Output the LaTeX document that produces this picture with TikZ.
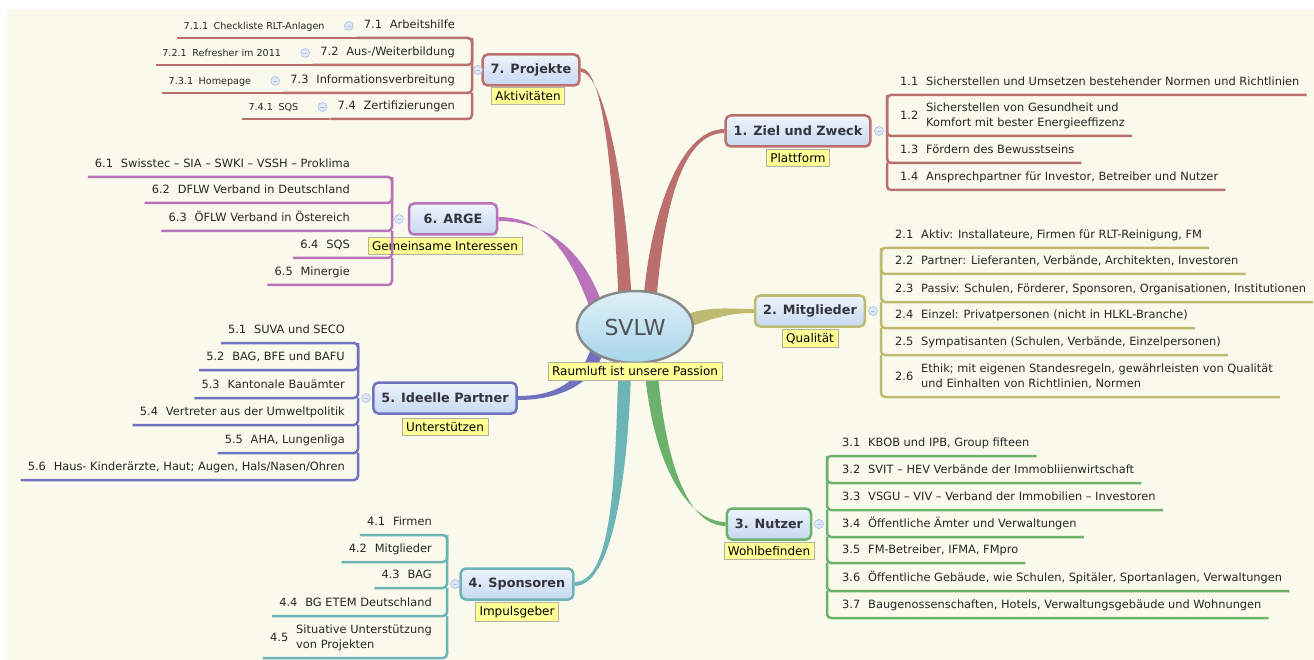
\documentclass[tikz,border=0pt]{standalone}
\usepackage{fontspec}
\setmainfont{DejaVu Sans}
\usepackage{tikz}
\usetikzlibrary{positioning,calc,shapes.geometric}
\pgfdeclarelayer{backdrop}
\pgfdeclarelayer{limbs}
\pgfsetlayers{backdrop,limbs,main}
\definecolor{paper}{RGB}{250,250,236}
\definecolor{brRed}{RGB}{187,112,110}
\definecolor{brOlive}{RGB}{190,186,112}
\definecolor{brGreen}{RGB}{108,178,108}
\definecolor{brTeal}{RGB}{108,180,182}
\definecolor{brBlue}{RGB}{112,114,192}
\definecolor{brPurple}{RGB}{186,114,186}
\definecolor{memoyellow}{RGB}{255,255,150}
\definecolor{memoline}{RGB}{178,178,158}
\definecolor{boxtop}{RGB}{238,244,252}
\definecolor{boxbot}{RGB}{198,216,240}
\definecolor{ovaltop}{RGB}{224,240,248}
\definecolor{ovalbot}{RGB}{166,214,234}
\definecolor{ovalline}{RGB}{138,138,138}
\definecolor{ink}{RGB}{52,52,60}
\definecolor{svlwink}{RGB}{82,82,86}
\definecolor{foldfill}{RGB}{222,232,248}
\definecolor{foldline}{RGB}{172,192,226}
\newcommand{\leaffont}{\fontsize{11.4}{15}\selectfont}
\newcommand{\twigfont}{\fontsize{9.6}{12}\selectfont}
\newcommand{\topicfont}{\bfseries\fontsize{12.8}{15}\selectfont}
\newcommand{\memofont}{\fontsize{12}{14}\selectfont}
\newcommand{\nr}[1]{\makebox[26pt][l]{#1}}
\newcommand{\twignr}[1]{\makebox[30pt][l]{#1}}
\newcommand{\twoline}[3]{\raisebox{7.5pt}{\makebox[26pt][l]{#1}}\begin{tabular}[b]{@{}l@{}}#2\\#3\end{tabular}}
\newcommand{\limb}[7]{\fill[#1] ($#2+#3$) .. controls ($#4+#3$) and ($#5+#7$) .. ($#6+#7$) -- ($#6-#7$) .. controls ($#5-#7$) and ($#4-#3$) .. ($#2-#3$) -- cycle;}
\tikzstyle{topic} = [rounded corners=5pt, line width=2.5pt, top color=boxtop, bottom color=boxbot, font=\topicfont, text=ink, minimum height=31pt, inner xsep=8pt]
\tikzstyle{memo} = [fill=memoyellow, draw=memoline, line width=0.6pt, font=\memofont, text=black, inner xsep=4pt, inner ysep=4pt]
\tikzstyle{leaf} = [font=\leaffont, text=black!85, inner xsep=7pt, inner ysep=6pt, text depth=3pt]
\tikzstyle{twig} = [font=\twigfont, text=black!85, inner xsep=6pt, inner ysep=6pt, text depth=2.5pt]
\tikzstyle{fold} = [circle, minimum size=9pt, inner sep=0pt, fill=foldfill, draw=foldline, line width=0.6pt, path picture={\draw[foldline, line width=0.7pt] ([xshift=-2.2pt]path picture bounding box.center) -- ([xshift=2.2pt]path picture bounding box.center);}]
\tikzstyle{rib} = [line width=2.5pt, rounded corners=4pt]

\begin{document}
\begin{tikzpicture}[x=1pt, y=-1pt]
	  \useasboundingbox (0,0) rectangle (1314,660);
	  \begin{pgfonlayer}{backdrop}
	  \fill[white] (0,0) rectangle (1314,660);
	  \fill[paper] (7,10) rectangle (1314,660);
	  \end{pgfonlayer}

	  \node (svlw) at (635,327) [ellipse, minimum width=116pt, minimum height=72pt, inner sep=0pt, top color=ovaltop, bottom color=ovalbot, draw=ovalline, line width=2.5pt, text=svlwink, font=\fontsize{22}{24}\selectfont] {SVLW};
	  \node (b1) at (798,131) [topic, draw=brRed] {1. Ziel und Zweck};
	  \node (b2) at (810,311) [topic, draw=brOlive] {2. Mitglieder};
	  \node (b3) at (769,524) [topic, draw=brGreen] {3. Nutzer};
	  \node (b4) at (517,584) [topic, draw=brTeal] {4. Sponsoren};
	  \node (b5) at (445,398) [topic, draw=brBlue] {5. Ideelle Partner};
	  \node (b6) at (453,219) [topic, draw=brPurple, minimum width=88pt] {6. ARGE};
	  \node (b7) at (531,70) [topic, draw=brRed] {7. Projekte};

	  \node (m0) [memo, below=-2pt of svlw] {Raumluft ist unsere Passion};
	  \node (m1) [memo, below=1pt of b1] {Plattform};
	  \node (m2) [memo, below=1pt of b2] {Qualität};
	  \node (m3) [memo, below=1pt of b3] {Wohlbefinden};
	  \node (m4) [memo, below=1pt of b4] {Impulsgeber};
	  \node (m5) [memo, below=3pt of b5] {Unterstützen};
	  \node (m6) [memo, below=1pt of b6, xshift=-8pt] {Gemeinsame Interessen};
	  \node (m7) [memo, below=0pt of b7, xshift=-3pt] {Aktivitäten};

	  \coordinate (k1) at (887,131);
	  \coordinate (k2) at (881,311);
	  \coordinate (k3) at (827,524);
	  \coordinate (k4) at (447,584);
	  \coordinate (k5) at (358,398);
	  \coordinate (k6) at (392,219);
	  \coordinate (k7) at (472,70);

	  \node (i11) at (893,95) [leaf, anchor=south west] {\nr{1.1}Sicherstellen und Umsetzen bestehender Normen und Richtlinien};
	  \node (i12) at (893,136) [leaf, anchor=south west] {\twoline{1.2}{Sicherstellen von Gesundheit und}{Komfort mit bester Energieeffizenz}};
	  \node (i13) at (893,163) [leaf, anchor=south west] {\nr{1.3}Fördern des Bewusstseins};
	  \node (i14) at (893,190) [leaf, anchor=south west] {\nr{1.4}Ansprechpartner für Investor, Betreiber und Nutzer};

	  \node (i21) at (888,248) [leaf, anchor=south west] {\nr{2.1}Aktiv: Installateure, Firmen für RLT-Reinigung, FM};
	  \node (i22) at (888,274) [leaf, anchor=south west] {\nr{2.2}Partner: Lieferanten, Verbände, Architekten, Investoren};
	  \node (i23) at (888,302) [leaf, anchor=south west] {\nr{2.3}Passiv: Schulen, Förderer, Sponsoren, Organisationen, Institutionen};
	  \node (i24) at (888,328) [leaf, anchor=south west] {\nr{2.4}Einzel: Privatpersonen (nicht in HLKL-Branche)};
	  \node (i25) at (888,355) [leaf, anchor=south west] {\nr{2.5}Sympatisanten (Schulen, Verbände, Einzelpersonen)};
	  \node (i26) at (888,397) [leaf, anchor=south west] {\twoline{2.6}{Ethik; mit eigenen Standesregeln, gewährleisten von Qualität}{und Einhalten von Richtlinien, Normen}};

	  \node (i31) at (835,456) [leaf, anchor=south west] {\nr{3.1}KBOB und IPB, Group fifteen};
	  \node (i32) at (835,483) [leaf, anchor=south west] {\nr{3.2}SVIT – HEV Verbände der Immobliienwirtschaft};
	  \node (i33) at (835,510) [leaf, anchor=south west] {\nr{3.3}VSGU – VIV – Verband der Immobilien – Investoren};
	  \node (i34) at (835,537) [leaf, anchor=south west] {\nr{3.4}Öffentliche Ämter und Verwaltungen};
	  \node (i35) at (835,563) [leaf, anchor=south west] {\nr{3.5}FM-Betreiber, IFMA, FMpro};
	  \node (i36) at (835,591) [leaf, anchor=south west] {\nr{3.6}Öffentliche Gebäude, wie Schulen, Spitäler, Sportanlagen, Verwaltungen};
	  \node (i37) at (835,618) [leaf, anchor=south west] {\nr{3.7}Baugenossenschaften, Hotels, Verwaltungsgebäude und Wohnungen};

	  \node (i41) at (439,535) [leaf, anchor=south east] {\nr{4.1}Firmen};
	  \node (i42) at (439,562) [leaf, anchor=south east] {\nr{4.2}Mitglieder};
	  \node (i43) at (439,588) [leaf, anchor=south east] {\nr{4.3}BAG};
	  \node (i44) at (439,616) [leaf, anchor=south east] {\nr{4.4}BG ETEM Deutschland};
	  \node (i45) at (439,658) [leaf, anchor=south east] {\twoline{4.5}{Situative Unterstützung}{von Projekten}};

	  \node (i51) at (352,343) [leaf, anchor=south east] {\nr{5.1}SUVA und SECO};
	  \node (i52) at (352,370) [leaf, anchor=south east] {\nr{5.2}BAG, BFE und BAFU};
	  \node (i53) at (352,398) [leaf, anchor=south east] {\nr{5.3}Kantonale Bauämter};
	  \node (i54) at (352,425) [leaf, anchor=south east] {\nr{5.4}Vertreter aus der Umweltpolitik};
	  \node (i55) at (352,453) [leaf, anchor=south east] {\nr{5.5}AHA, Lungenliga};
	  \node (i56) at (352,480) [leaf, anchor=south east] {\nr{5.6}Haus- Kinderärzte, Haut; Augen, Hals/Nasen/Ohren};

	  \node (i61) at (357,177) [leaf, anchor=south east] {\nr{6.1}Swisstec – SIA – SWKI – VSSH – Proklima};
	  \node (i62) at (357,203) [leaf, anchor=south east] {\nr{6.2}DFLW Verband in Deutschland};
	  \node (i63) at (357,231) [leaf, anchor=south east] {\nr{6.3}ÖFLW Verband in Östereich};
	  \node (i64) at (357,258) [leaf, anchor=south east] {\nr{6.4}SQS};
	  \node (i65) at (357,285) [leaf, anchor=south east] {\nr{6.5}Minergie};

	  \node (i71) at (462,38) [leaf, anchor=south east] {\nr{7.1}Arbeitshilfe};
	  \node (i72) at (462,65) [leaf, anchor=south east] {\nr{7.2}Aus-/Weiterbildung};
	  \node (i73) at (462,93) [leaf, anchor=south east] {\nr{7.3}Informationsverbreitung};
	  \node (i74) at (462,119) [leaf, anchor=south east] {\nr{7.4}Zertifizierungen};
	  \node (s71) at ([xshift=-26pt]i71.south west) [twig, anchor=south east] {\twignr{7.1.1}Checkliste RLT-Anlagen};
	  \node (s72) at ([xshift=-26pt]i72.south west) [twig, anchor=south east] {\twignr{7.2.1}Refresher im 2011};
	  \node (s73) at ([xshift=-26pt]i73.south west) [twig, anchor=south east] {\twignr{7.3.1}Homepage};
	  \node (s74) at ([xshift=-26pt]i74.south west) [twig, anchor=south east] {\twignr{7.4.1}SQS};

	  \draw [rib, brRed] (k1 |- i12.south) -- (k1 |- i11.south) -- (i11.south east);
	  \foreach \a/\b in {i11/i12,i12/i13,i13/i14}
	    \draw [rib, brRed] (k1 |- \a.south) -- (k1 |- \b.south) -- (\b.south east);
	  \draw [rib, brOlive] (k2 |- i22.south) -- (k2 |- i21.south) -- (i21.south east);
	  \foreach \a/\b in {i21/i22,i22/i23,i23/i24,i24/i25,i25/i26}
	    \draw [rib, brOlive] (k2 |- \a.south) -- (k2 |- \b.south) -- (\b.south east);
	  \draw [rib, brGreen] (k3 |- i32.south) -- (k3 |- i31.south) -- (i31.south east);
	  \foreach \a/\b in {i31/i32,i32/i33,i33/i34,i34/i35,i35/i36,i36/i37}
	    \draw [rib, brGreen] (k3 |- \a.south) -- (k3 |- \b.south) -- (\b.south east);
	  \draw [rib, brTeal] (k4 |- i42.south) -- (k4 |- i41.south) -- (i41.south west);
	  \foreach \a/\b in {i41/i42,i42/i43,i43/i44,i44/i45}
	    \draw [rib, brTeal] (k4 |- \a.south) -- (k4 |- \b.south) -- (\b.south west);
	  \draw [rib, brBlue] (k5 |- i52.south) -- (k5 |- i51.south) -- (i51.south west);
	  \foreach \a/\b in {i51/i52,i52/i53,i53/i54,i54/i55,i55/i56}
	    \draw [rib, brBlue] (k5 |- \a.south) -- (k5 |- \b.south) -- (\b.south west);
	  \draw [rib, brPurple] (k6 |- i62.south) -- (k6 |- i61.south) -- (i61.south west);
	  \foreach \a/\b in {i61/i62,i62/i63,i63/i64,i64/i65}
	    \draw [rib, brPurple] (k6 |- \a.south) -- (k6 |- \b.south) -- (\b.south west);
	  \draw [rib, brRed] (k7 |- i72.south) -- (k7 |- i71.south) -- (i71.south west);
	  \foreach \a/\b in {i71/i72,i72/i73,i73/i74}
	    \draw [rib, brRed] (k7 |- \a.south) -- (k7 |- \b.south) -- (\b.south west);
	  \foreach \i in {1,...,4}
	    \draw [rib, brRed] (s7\i.south west) -- (i7\i.south west);

	  \node (f1) at ([xshift=-8pt]k1) [fold] {};
	  \node (f2) at ([xshift=-8pt]k2) [fold] {};
	  \node (f3) at ([xshift=-8pt]k3) [fold] {};
	  \node (f4) at ([xshift=8pt]k4) [fold] {};
	  \node (f5) at ([xshift=8pt]k5) [fold] {};
	  \node (f6) at ([xshift=7pt]k6) [fold] {};
	  \node (f7) at ([xshift=6pt]k7) [fold] {};
	  \foreach \i in {1,...,4}
	    \node (g7\i) at ([xshift=-8pt]i7\i.west) [fold] {};

	  \begin{pgfonlayer}{limbs}
	  \limb{brRed}{(svlw.center)+(15,-28)}{(6.5,0)}{(657,215)}{(680,131)}{(b1.west)}{(0,2)}
	  \limb{brRed}{(svlw.center)+(-10,-28)}{(6.5,0)}{(620,190)}{(605,70)}{(b7.east)}{(0,2)}
	  \limb{brPurple}{(svlw.center)+(-40,-24)}{(6.1,-2.3)}{(575,250)}{(545,219)}{(b6.east)}{(0,2)}
	  \limb{brOlive}{(svlw.center)+(52,-6)}{(2.2,6.1)}{(712,312)}{(728,311)}{(b2.west)}{(0,2)}
	  \limb{brBlue}{(svlw.center)+(-38,24)}{(6.1,2.2)}{(585,385)}{(555,398)}{(b5.east)}{(0,2)}
	  \limb{brTeal}{(svlw.center)+(-10,30)}{(6.5,0)}{(622,480)}{(612,584)}{(b4.east)}{(0,2)}
	  \limb{brGreen}{(svlw.center)+(15,30)}{(6.5,0)}{(658,470)}{(690,524)}{(b3.west)}{(0,2)}
	  \end{pgfonlayer}
	\end{tikzpicture}
\end{document}
